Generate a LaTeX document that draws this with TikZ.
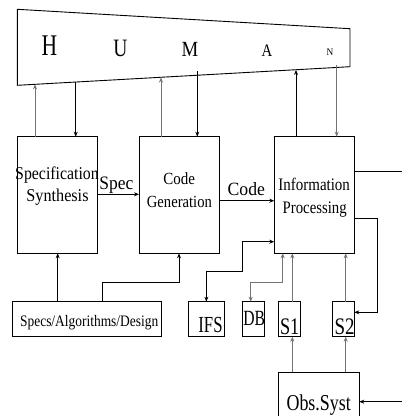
\documentclass[tikz,border=0pt]{standalone}
\usepackage{fontspec}
\setmainfont{Liberation Serif}
\usepackage{graphicx}
\usetikzlibrary{arrows.meta,calc}
\newcommand\sqz[2]{\scalebox{#1}[1]{#2}}
\newcommand\fs[1]{\fontsize{#1}{#1}\selectfont}
\begin{document}
\begin{tikzpicture}[x=1pt,y=-1pt,
  box/.style={draw=black,line width=0.9pt,inner sep=0pt,outer sep=0pt,rectangle},
  txt/.style={inner sep=0pt,outer sep=0pt,anchor=base},
  barr/.style={draw=black,line width=0.8pt,-{Stealth[length=5pt,width=4pt]}},
  garr/.style={draw=black!55,line width=0.9pt,-{Stealth[length=5pt,width=4pt]}},
  bbarr/.style={draw=black,line width=0.8pt,{Stealth[length=5pt,width=4pt]}-{Stealth[length=5pt,width=4pt]}},
  gbarr/.style={draw=black!55,line width=0.9pt,{Stealth[length=5pt,width=4pt]}-{Stealth[length=5pt,width=4pt]}},
  pline/.style={draw=black,line width=0.8pt}]
\useasboundingbox (0,0) rectangle (402,416);
\fill[white] (0,0) rectangle (402,416);

% HUMAN trapezoid
\coordinate (tl) at (17.3,9.3);
\coordinate (tr) at (350,28.7);
\coordinate (br) at (350,66.7);
\coordinate (bl) at (17.3,85.3);
\draw[line width=0.9pt] (tl) -- (tr) -- (br) -- (bl) -- cycle;
\node[txt] (lH) at (49.5,55) {\fs{30}\sqz{0.72}{H}};
\node[txt] (lU) at (120.3,56.5) {\fs{25}\sqz{0.78}{U}};
\node[txt] (lM) at (190,56) {\fs{21.6}\sqz{0.87}{M}};
\node[txt] (lA) at (267,56) {\fs{17.6}\sqz{0.84}{A}};
\node[txt] (lN) at (330,55.7) {\fs{10}\sqz{0.93}{N}};

\coordinate (hA) at (35,84.3);
\coordinate (hB) at (75.7,82.2);
\coordinate (hC) at (161,77.5);
\coordinate (hD) at (197.3,71);
\coordinate (hE) at (296,69.9);
\coordinate (hF) at (336.7,65);

% main boxes
\node[box,minimum width=80.4pt,minimum height=116.6pt] (SS) at (57.5,195) {};
\node[box,minimum width=80.3pt,minimum height=116.6pt] (CG) at (179.15,195) {};
\node[box,minimum width=80pt,minimum height=116.6pt] (IP) at (314.3,195) {};

\node[txt] (tSS1) at (57,179.3) {\fs{18}\sqz{0.88}{Specification}};
\node[txt] (tSS2) at (57.5,201.7) {\fs{18}\sqz{0.9}{Synthesis}};
\node[txt] (tCG1) at (179.2,184) {\fs{17}\sqz{0.88}{Code}};
\node[txt] (tCG2) at (179.4,207) {\fs{17}\sqz{0.86}{Generation}};
\node[txt] (tIP1) at (314.2,190) {\fs{17.6}\sqz{0.85}{Information}};
\node[txt] (tIP2) at (314.7,213.3) {\fs{17.6}\sqz{0.84}{Processing}};

% bottom boxes
\node[box,minimum width=149pt,minimum height=35pt] (SAD) at (87.2,319.2) {};
\node[box,minimum width=35.3pt,minimum height=35pt] (IFS) at (206.35,319.2) {};
\node[box,minimum width=21.6pt,minimum height=35pt] (DB) at (253.5,319.2) {};
\node[box,minimum width=22pt,minimum height=35pt] (S1) at (289.3,319.2) {};
\node[box,minimum width=21.6pt,minimum height=35pt] (S2) at (343.5,319.2) {};
\node[box,minimum width=81pt,minimum height=47.7pt] (OBS) at (318.8,396.2) {};

\node[txt] (tSAD) at (89.2,326) {\fs{16}\sqz{0.84}{Specs/Algorithms/Design}};
\node[txt] (tIFS) at (210.5,332.7) {\fs{23}\sqz{0.73}{IFS}};
\node[txt] (tDB) at (254.2,325.3) {\fs{21.7}\sqz{0.72}{DB}};
\node[txt] (tS1) at (289.7,334) {\fs{23.7}\sqz{0.77}{S1}};
\node[txt] (tS2) at (344.7,334) {\fs{23.7}\sqz{0.8}{S2}};
\node[txt] (tOBS) at (318.7,410) {\fs{22.7}\sqz{0.79}{Obs.Syst}};

% human connections
\draw[garr] (hA |- SS.north) -- (hA);
\draw[barr] (hB) -- (hB |- SS.north);
\draw[garr] (hC |- CG.north) -- (hC);
\draw[barr] (hD) -- (hD |- CG.north);
\draw[barr] (hE |- IP.north) -- (hE);
\draw[garr] (hF) -- (hF |- IP.north);

% Spec and Code
\coordinate (ySpec) at (0,194.3);
\coordinate (yCode) at (0,200.7);
\draw[barr] (SS.east |- ySpec) -- (CG.west |- ySpec);
\node[txt] (lSpec) at (116.3,189.3) {\fs{19}\sqz{0.92}{Spec}};
\draw[barr] (CG.east |- yCode) -- (IP.west |- yCode);
\node[txt] (lCode) at (246.3,195.7) {\fs{18.7}\sqz{0.945}{Code}};

% outputs of IP
\coordinate (outR) at (402,171.7);
\draw[pline] (IP.east |- outR) -- (outR);
\coordinate (fbA) at (377.7,218.3);
\coordinate (fbB) at (377.7,312.3);
\draw[barr] (IP.east |- fbA) -- (fbA) -- (fbB) -- (S2.east |- fbB);

% IFS loop
\coordinate (ifA) at (242.7,271.7);
\coordinate (ifB) at (0,241.7);
\draw[bbarr] (IFS.north) |- (ifA) |- (IP.west |- ifB);

% DB loop
\coordinate (dbX) at (250.7,0);
\coordinate (dbA) at (282.7,282.7);
\draw[gbarr] (dbX |- DB.north) |- (dbA) -- (dbA |- IP.south);

% S1, S2 to IP
\coordinate (s1x) at (292.3,0);
\coordinate (s2x) at (345.7,0);
\draw[garr] (s1x |- S1.north) -- (s1x |- IP.south);
\draw[garr] (s2x |- S2.north) -- (s2x |- IP.south);

% OBS to S1, S2
\draw[garr] (s1x |- OBS.north) -- (s1x |- S1.south);
\draw[garr] (s2x |- OBS.north) -- (s2x |- S2.south);
\coordinate (obsIn) at (402,401.7);
\draw[barr] (obsIn) -- (OBS.east |- obsIn);

% SAD to SS, CG
\coordinate (sa1) at (57.7,0);
\coordinate (sa2) at (102.3,0);
\coordinate (saC) at (179,282.7);
\draw[barr] (sa1 |- SAD.north) -- (sa1 |- SS.south);
\draw[barr] (sa2 |- SAD.north) |- (saC) -- (saC |- CG.south);
\end{tikzpicture}
\end{document}
